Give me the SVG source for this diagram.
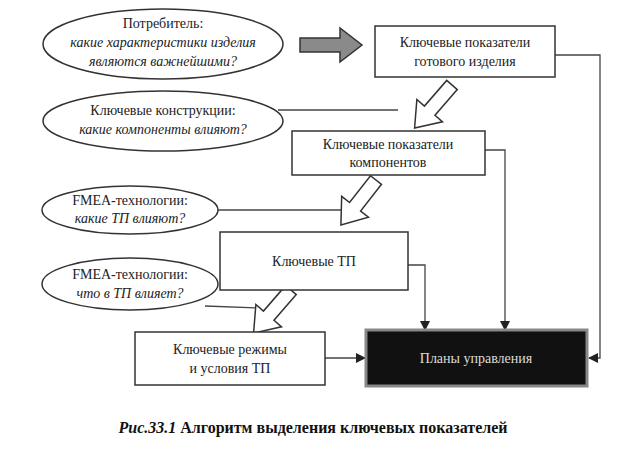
<svg xmlns="http://www.w3.org/2000/svg" width="627" height="459" viewBox="0 0 627 459">
<style>
.e{fill:#fff;stroke:#333;stroke-width:1.5}
.b{fill:#fff;stroke:#333;stroke-width:1.5}
.t{font-family:"Liberation Serif","DejaVu Serif","Times New Roman",serif;font-size:14px;fill:#222;text-anchor:middle}
.i{font-style:italic}
.c{fill:none;stroke:#444;stroke-width:1.3}
.h{fill:#fff;stroke:#333;stroke-width:1.5}
.cap{font-family:"Liberation Serif","DejaVu Serif","Times New Roman",serif;font-size:16px;font-weight:bold;fill:#111;text-anchor:middle}
</style>
<defs>
<marker id="m" markerWidth="10" markerHeight="10" refX="9" refY="5" orient="auto" markerUnits="userSpaceOnUse"><path d="M0,0L10,5L0,10Z" fill="#222"/></marker>
<path id="ha" d="M0,-7L34,-7L34,-17L57,0L34,17L34,7L0,7Z"/>
</defs>
<g id="connectors">
<path class="c" d="M278,110H398"/>
<path class="c" d="M216,210H342"/>
<path class="c" d="M205,306L258,308"/>
<path class="c" d="M555,55H600V358H589" marker-end="url(#m)"/>
<path class="c" d="M485,150H505V330" marker-end="url(#m)"/>
<path class="c" d="M408,265H425V330" marker-end="url(#m)"/>
<path class="c" d="M325,358H365" marker-end="url(#m)"/>
<path d="M300,38H340V28L362,45L340,62V52H300Z" fill="#8a8a8a" stroke="#333" stroke-width="1.5"/>
<use href="#ha" class="h" transform="translate(452,85) rotate(131)"/>
<use href="#ha" class="h" transform="translate(376,180) rotate(128)"/>
<use href="#ha" class="h" transform="translate(291,290) rotate(131)"/>
</g>
<g id="e1"><ellipse class="e" cx="163" cy="44" rx="120" ry="35"/>
<text class="t" x="163" y="28">Потребитель:</text>
<text class="t i" x="163" y="47">какие характеристики изделия</text>
<text class="t i" x="163" y="66">являются важнейшими?</text></g>
<g id="b1"><rect class="b" x="375" y="26" width="180" height="51"/>
<text class="t" x="465" y="47">Ключевые показатели</text>
<text class="t" x="465" y="66">готового изделия</text></g>
<g id="e2"><ellipse class="e" cx="163" cy="121" rx="120" ry="30"/>
<text class="t" x="163" y="115">Ключевые конструкции:</text>
<text class="t i" x="163" y="134">какие компоненты влияют?</text></g>
<g id="b2"><rect class="b" x="292" y="131" width="193" height="44"/>
<text class="t" x="388" y="149">Ключевые показатели</text>
<text class="t" x="388" y="167">компонентов</text></g>
<g id="e3"><ellipse class="e" cx="130" cy="210" rx="88" ry="24"/>
<text class="t" x="130" y="205">FMEA-технологии:</text>
<text class="t i" x="130" y="223">какие ТП влияют?</text></g>
<g id="b3"><rect class="b" x="220" y="232" width="188" height="58"/>
<text class="t" x="314" y="266">Ключевые ТП</text></g>
<g id="e4"><ellipse class="e" cx="130" cy="284" rx="88" ry="26"/>
<text class="t" x="130" y="279">FMEA-технологии:</text>
<text class="t i" x="130" y="298">что в ТП влияет?</text></g>
<g id="b4"><rect class="b" x="135" y="332" width="190" height="53"/>
<text class="t" x="230" y="354">Ключевые режимы</text>
<text class="t" x="230" y="373">и условия ТП</text></g>
<g id="b5"><rect x="366" y="330" width="221" height="56" fill="#111" stroke="#888" stroke-width="3"/>
<text class="t" x="476" y="363" style="fill:#ddd">Планы управления</text></g>
<text class="cap" x="313" y="433"><tspan font-style="italic">Рис.33.1</tspan> Алгоритм  выделения  ключевых  показателей</text>
</svg>
